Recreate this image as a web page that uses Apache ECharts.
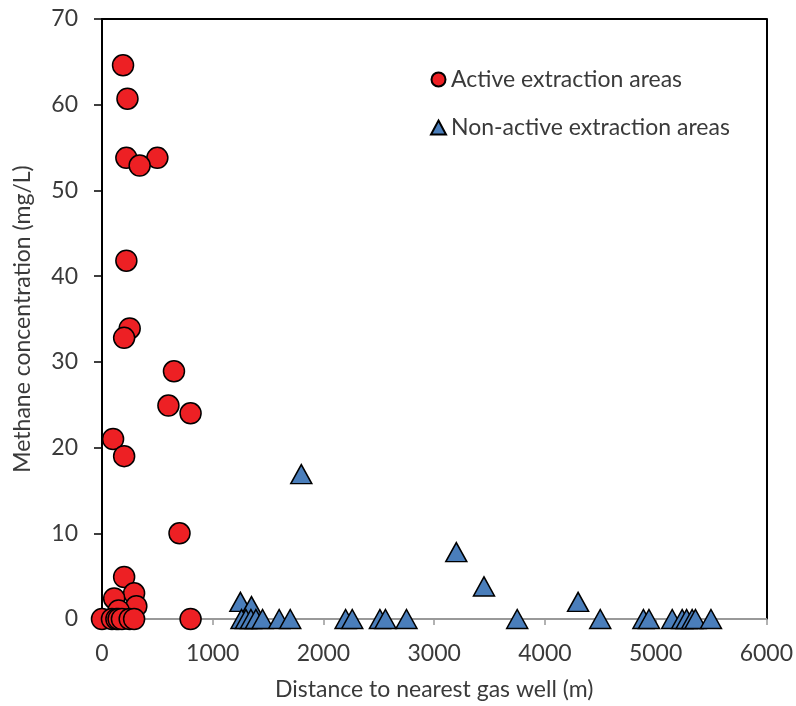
<!DOCTYPE html>
<html><head><meta charset="utf-8">
<script src="https://cdn.jsdelivr.net/npm/echarts@6/dist/echarts.min.js"></script>
<style>html,body{margin:0;padding:0;background:#fff}#c{width:796px;height:706px}</style>
</head><body><div id="c"></div>
<script>
const seriesNames = ['Active extraction areas', 'Non-active extraction areas'];
const activeX = [190, 230, 220, 500, 340, 220, 250, 200, 650, 600, 800, 100, 200, 700, 200, 290, 110, 310, 150, 0, 90, 130, 150, 180, 250, 290, 800];
const activeY = [64.6, 60.7, 53.8, 53.8, 52.9, 41.8, 33.9, 32.8, 28.9, 24.9, 24, 21, 19, 10, 4.9, 3, 2.4, 1.5, 1, 0, 0, 0, 0, 0, 0, 0, 0];
const nonActiveX = [1800, 3200, 3450, 4300, 1250, 1350, 1260, 1300, 1345, 1390, 1450, 1600, 1700, 2200, 2260, 2510, 2560, 2750, 3750, 4500, 4890, 4940, 5150, 5240, 5280, 5330, 5360, 5500];
const nonActiveY = [16.9, 7.8, 3.8, 2, 2, 1.5, 0, 0, 0, 0, 0, 0, 0, 0, 0, 0, 0, 0, 0, 0, 0, 0, 0, 0, 0, 0, 0, 0];
const xTicks = [0, 1000, 2000, 3000, 4000, 5000, 6000];
const yTicks = [0, 10, 20, 30, 40, 50, 60, 70];
const xTitle = 'Distance to nearest gas well (m)';
const yTitle = 'Methane concentration (mg/L)';

const font = 'Lato, "Open Sans", sans-serif';
const fs = 23;
const txt = '#3a3a3a';
const chart = echarts.init(document.getElementById('c'), null, {renderer: 'canvas'});
chart.setOption({
  animation: false,
  backgroundColor: '#fff',
  grid: {left: 102, right: 26, top: 19, bottom: 86, containLabel: false},
  legend: {
    orient: 'vertical', left: 425, top: 62,
    itemWidth: 15, itemHeight: 14, itemGap: 23,
    textStyle: {fontFamily: font, fontSize: fs, color: txt, lineHeight: 25},
    data: [{name: seriesNames[0], icon: 'circle'}, {name: seriesNames[1], icon: 'triangle'}]
  },
  xAxis: [{
    type: 'value', min: xTicks[0], max: xTicks[xTicks.length - 1], interval: 1000,
    name: xTitle, nameLocation: 'middle', nameGap: 59,
    nameTextStyle: {fontFamily: font, fontSize: fs, color: txt},
    axisLine: {show: true, onZero: true, lineStyle: {color: '#999', width: 2}},
    axisTick: {show: true, length: 6, lineStyle: {color: '#999', width: 1.5}},
    axisLabel: {margin: 23, fontFamily: font, fontSize: fs, color: txt, formatter: v => String(v)},
    splitLine: {show: false}
  }, {
    type: 'value', position: 'top', min: 0, max: 6000,
    axisLine: {show: true, onZero: false, lineStyle: {color: '#000', width: 2}},
    axisTick: {show: false}, axisLabel: {show: false}, splitLine: {show: false}
  }],
  yAxis: [{
    type: 'value', min: yTicks[0], max: yTicks[yTicks.length - 1], interval: 10,
    name: yTitle, nameLocation: 'middle', nameGap: 68, nameRotate: 90,
    nameTextStyle: {fontFamily: font, fontSize: fs, color: txt},
    axisLine: {show: true, onZero: false, lineStyle: {color: '#000', width: 2}},
    axisTick: {show: true, length: 8, lineStyle: {color: '#000', width: 1.5}},
    axisLabel: {margin: 24, fontFamily: font, fontSize: fs, color: txt},
    splitLine: {show: false}
  }, {
    type: 'value', position: 'right', min: 0, max: 70,
    axisLine: {show: true, onZero: false, lineStyle: {color: '#000', width: 2}},
    axisTick: {show: false}, axisLabel: {show: false}, splitLine: {show: false}
  }],
  series: [{
    name: seriesNames[0], type: 'scatter', symbol: 'circle', symbolSize: 21, clip: false,
    itemStyle: {color: '#ED2024', borderColor: '#000', borderWidth: 1.5, opacity: 1},
    data: activeX.map((x, i) => [x, activeY[i]])
  }, {
    name: seriesNames[1], type: 'scatter', symbol: 'triangle', symbolSize: [21, 19], clip: false,
    itemStyle: {color: '#4A7EBB', borderColor: '#000', borderWidth: 1.5, opacity: 1},
    data: nonActiveX.map((x, i) => [x, nonActiveY[i]])
  }]
});
</script></body></html>
